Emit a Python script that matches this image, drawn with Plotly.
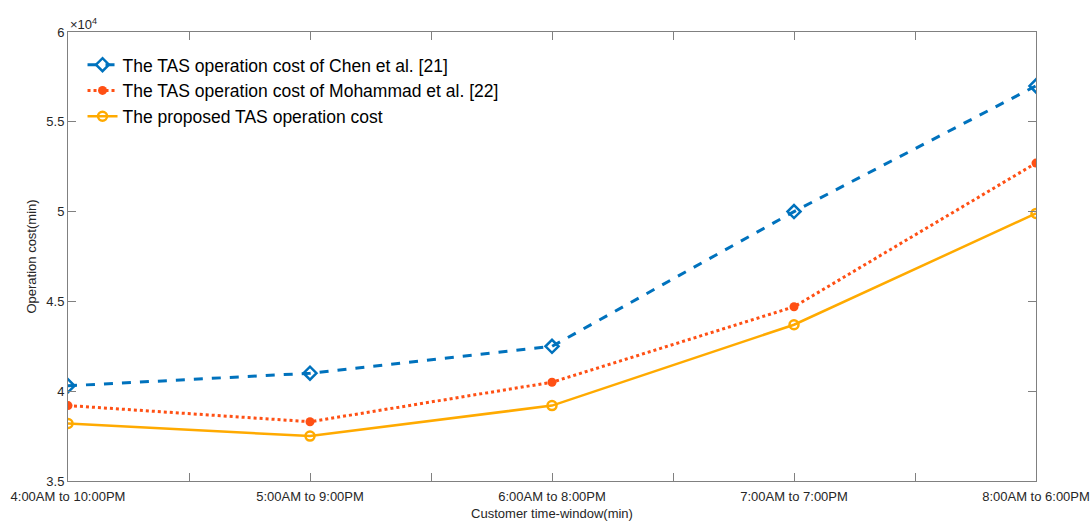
import plotly.graph_objects as go

categories = ["4:00AM to 10:00PM", "5:00AM to 9:00PM", "6:00AM to 8:00PM",
              "7:00AM to 7:00PM", "8:00AM to 6:00PM"]
chen = [40300, 41000, 42500, 50000, 57000]
mohammad = [39200, 38300, 40500, 44700, 52700]
proposed = [38200, 37500, 39200, 43700, 49900]
y_tickvals = [35000, 40000, 45000, 50000, 55000, 60000]
y_ticktext = ["3.5", "4", "4.5", "5", "5.5", "6"]

xpos = list(range(1, len(categories) + 1))

fig = go.Figure()
fig.add_trace(go.Scatter(
    x=xpos, y=chen, mode="lines+markers",
    name="The TAS operation cost of Chen et al. [21]",
    line=dict(color="#0072BD", width=3, dash="dash"),
    marker=dict(symbol="diamond-open", size=10, color="#0072BD", line=dict(width=2.5)),
))
fig.add_trace(go.Scatter(
    x=xpos, y=mohammad, mode="lines+markers",
    name="The TAS operation cost of Mohammad et al. [22]",
    line=dict(color="#FF5014", width=3, dash="dot"),
    marker=dict(symbol="circle", size=9, color="#FF5014"),
))
fig.add_trace(go.Scatter(
    x=xpos, y=proposed, mode="lines+markers",
    name="The proposed TAS operation cost",
    line=dict(color="#FFAA00", width=2.5),
    marker=dict(symbol="circle-open", size=9, color="#FFAA00", line=dict(width=2.5)),
))

axis_common = dict(
    showline=True, linecolor="#808080", linewidth=1, mirror="ticks",
    ticks="inside", tickcolor="#808080", ticklen=8, showgrid=False, zeroline=False,
    automargin=False,
    tickfont=dict(family="Liberation Sans, Arial", size=13, color="#262626"),
)
fig.update_xaxes(
    range=[1, 5], tickvals=xpos, ticktext=categories, ticklabelstandoff=3,
    minor=dict(ticks="inside", dtick=0.5, tick0=1, ticklen=8, tickcolor="#808080", showgrid=False),
    title=dict(text="Customer time-window(min)", standoff=7,
               font=dict(family="Liberation Sans, Arial", size=13, color="#262626")),
    **axis_common,
)
fig.update_yaxes(
    range=[35000, 60000], tickvals=y_tickvals, ticktext=y_ticktext,
    title=dict(text="Operation cost(min)", standoff=6,
               font=dict(family="Liberation Sans, Arial", size=13, color="#262626")),
    **axis_common,
)
fig.add_annotation(
    xref="paper", yref="paper", x=0, y=1, xanchor="left", yanchor="bottom",
    text="×10<sup>4</sup>", showarrow=False, xshift=0, yshift=-2,
    font=dict(family="Liberation Sans, Arial", size=13, color="#262626"),
)
fig.update_layout(
    width=1091, height=521,
    margin=dict(l=68, r=55, t=32, b=40),
    plot_bgcolor="white", paper_bgcolor="white",
    legend=dict(x=0.015, y=0.967, xanchor="left", yanchor="top",
                bgcolor="rgba(255,255,255,0)", borderwidth=0,
                font=dict(family="Liberation Sans, Arial", size=17.5, color="#000000"),
                tracegroupgap=0, itemwidth=30),
    showlegend=True,
)
fig.write_html("out.html", config={"displayModeBar": False},
               post_script="document.body.style.margin='0';document.body.style.overflow='hidden';")
